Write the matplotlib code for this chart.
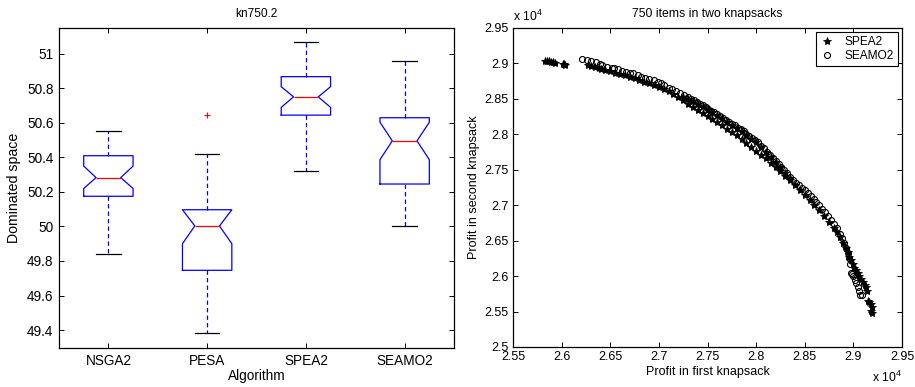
import matplotlib
matplotlib.use('Agg')
import matplotlib.pyplot as plt

plt.rcParams['font.family'] = ['Liberation Sans', 'DejaVu Sans']
plt.rcParams['mathtext.default'] = 'regular'

# left: boxplot of dominated space
algorithms = ['NSGA2', 'PESA', 'SPEA2', 'SEAMO2']
medians = [50.283, 50.003, 50.751, 50.496]
q1s = [50.175, 49.746, 50.645, 50.246]
q3s = [50.41, 50.097, 50.868, 50.63]
whis_lo = [49.842, 49.38, 50.32, 50.001]
whis_hi = [50.552, 50.42, 51.066, 50.956]
notch_lo = [50.22, 49.90, 50.69, 50.387]
notch_hi = [50.35, 50.097, 50.81, 50.604]
outliers = [[], [50.646], [], []]
box_yticks = [49.4, 49.6, 49.8, 50, 50.2, 50.4, 50.6, 50.8, 51]

# right: final fronts
spea2_lower_x = [25830, 25850, 25870, 25890, 25910, 25930, 26010, 26020, 26030,
                 26270, 26300, 26340, 26380, 26400, 26450, 26500, 26550, 26600, 26650,
                 26700, 26750, 26800, 26850, 26900, 26950, 27000, 27050, 27100, 27150,
                 27200, 27250, 27300, 27350, 27400, 27450, 27500, 27550, 27600, 27650,
                 27700, 27750, 27800, 27850, 27900, 27950, 28000, 28050, 28100, 28150,
                 28200, 28250, 28300, 28350, 28400, 28450, 28500, 28550, 28600, 28650,
                 28700, 28750, 28800, 28830, 28860, 28890, 28920, 28940, 28960, 28980,
                 29000, 29010, 29030, 29050, 29060, 29080, 29100, 29120, 29130, 29140,
                 29150, 29160, 29180, 29190, 29190, 29185]
spea2_lower_y = [29035, 29032, 29028, 29022, 29018, 29012, 28990, 28985, 28980,
                 28975, 28965, 28950, 28930, 28925, 28905, 28890, 28870, 28850, 28830,
                 28810, 28790, 28765, 28745, 28720, 28695, 28670, 28640, 28605, 28570,
                 28530, 28480, 28430, 28385, 28340, 28300, 28260, 28215, 28170, 28125,
                 28080, 28035, 27985, 27935, 27880, 27825, 27770, 27715, 27660, 27600,
                 27540, 27480, 27415, 27350, 27285, 27220, 27150, 27070, 27000, 26930,
                 26850, 26770, 26680, 26620, 26550, 26470, 26400, 26340, 26270, 26220,
                 26170, 26120, 26080, 26040, 26000, 25960, 25920, 25880, 25840, 25790,
                 25650, 25630, 25600, 25560, 25480, 25510]
spea2_upper_x = [27250, 27300, 27350, 27400, 27450, 27500, 27550, 27600, 27650, 27700,
                 27750, 27800, 27850, 27900, 27950, 28000, 28050, 28100, 28150, 28200,
                 28250, 28300, 28350]
spea2_upper_y = [28530, 28505, 28470, 28425, 28395, 28355, 28310, 28270, 28230, 28180,
                 28135, 28090, 28045, 27995, 27940, 27885, 27825, 27755, 27680, 27610,
                 27540, 27460, 27390]

seamo2_x = [26210, 26260, 26300, 26350, 26390, 26410, 26470, 26520, 26540, 26580,
            26620, 26660, 26700, 26730, 26780, 26820, 26860, 26900, 26950, 26990,
            27020, 27050, 27100, 27130, 27180, 27220, 27260, 27300, 27330, 27360,
            27390, 27420, 27450, 27480, 27510, 27540, 27570, 27600, 27630, 27660,
            27690, 27720, 27750, 27780, 27810, 27840, 27870, 27900, 27930, 27960,
            27990, 28020, 28050, 28080, 28110, 28140, 28170, 28200, 28230, 28260,
            28290, 28320, 28350, 28380, 28410, 28440, 28470, 28500, 28530, 28560,
            28590, 28620, 28650, 28680, 28710, 28740, 28770, 28800, 28830, 28860,
            28880, 28900, 28920, 28940, 28960, 28970, 28980, 28990, 29000, 29020,
            29030, 29050, 29060, 29070, 29090]
seamo2_y = [29058, 29045, 29040, 29015, 28990, 28975, 28950, 28935, 28940, 28915,
            28900, 28880, 28870, 28860, 28835, 28815, 28800, 28785, 28760, 28740,
            28720, 28700, 28655, 28640, 28610, 28580, 28555, 28520, 28500, 28480,
            28455, 28430, 28410, 28385, 28360, 28335, 28310, 28285, 28260, 28235,
            28205, 28180, 28150, 28125, 28095, 28070, 28040, 28010, 27980, 27945,
            27915, 27885, 27840, 27800, 27755, 27710, 27665, 27625, 27580, 27535,
            27490, 27450, 27400, 27360, 27320, 27280, 27240, 27210, 27170, 27130,
            27090, 27040, 27000, 26950, 26900, 26850, 26790, 26740, 26680, 26600,
            26540, 26470, 26400, 26330, 26260, 26170, 26050, 26030, 26000, 25950,
            25900, 25850, 25790, 25740, 25730]

front_ticks_x = [25500, 26000, 26500, 27000, 27500, 28000, 28500, 29000, 29500]
front_ticks_y = [25000, 25500, 26000, 26500, 27000, 27500, 28000, 28500, 29000, 29500]

f = plt.figure(figsize=(9.15, 3.87), dpi=100)

ax1 = f.add_axes([0.0645, 0.1008, 0.4317, 0.8269])
stats = []
for i in range(len(algorithms)):
    stats.append({'label': algorithms[i], 'med': medians[i], 'q1': q1s[i], 'q3': q3s[i],
                  'whislo': whis_lo[i], 'whishi': whis_hi[i], 'fliers': outliers[i],
                  'cilo': notch_lo[i], 'cihi': notch_hi[i]})
ax1.bxp(stats, widths=0.5, capwidths=0.25, shownotches=True,
        boxprops=dict(color='blue', linewidth=0.9),
        whiskerprops=dict(color='blue', linewidth=0.9, linestyle=(0, (3.5, 2.5))),
        capprops=dict(color='black', linewidth=0.9),
        medianprops=dict(color='red', linewidth=0.9),
        flierprops=dict(marker='+', markeredgecolor='red', markersize=4, markeredgewidth=0.8))
ax1.set_xlim(0.5, 4.5)
ax1.set_ylim(49.296, 51.15)
ax1.set_yticks(box_yticks)
ax1.set_yticklabels(['%g' % v for v in box_yticks])
ax1.tick_params(direction='in', top=True, right=True, length=3.5, width=0.7, labelsize=9.8, pad=4)
ax1.set_title('kn750.2', fontsize=8.6, pad=8)
ax1.set_xlabel('Algorithm', fontsize=9.8, labelpad=1)
ax1.set_ylabel('Dominated space', fontsize=10.2, labelpad=4)
for s in ax1.spines.values():
    s.set_linewidth(0.9)

ax2 = f.add_axes([0.5607, 0.1034, 0.4251, 0.8243])
ax2.plot(spea2_lower_x + spea2_upper_x, spea2_lower_y + spea2_upper_y, linestyle='none',
         marker='*', markersize=6, color='black', markeredgewidth=0.6, label='SPEA2')
ax2.plot(seamo2_x, seamo2_y, linestyle='none', marker='o', markersize=4.3, markerfacecolor='none',
         markeredgecolor='black', markeredgewidth=0.8, label='SEAMO2')
ax2.set_xlim(25500, 29500)
ax2.set_ylim(25000, 29500)
ax2.set_xticks(front_ticks_x)
ax2.set_xticklabels(['%g' % (v / 1e4) for v in front_ticks_x])
ax2.set_yticks(front_ticks_y)
ax2.set_yticklabels(['%g' % (v / 1e4) for v in front_ticks_y])
ax2.tick_params(direction='in', top=True, right=True, length=3.5, width=0.7, labelsize=9, pad=3)
ax2.set_title('750 items in two knapsacks', fontsize=8.8, pad=8)
ax2.set_xlabel('Profit in first knapsack', fontsize=9, labelpad=2)
ax2.set_ylabel('Profit in second knapsack', fontsize=9, labelpad=3)
for s in ax2.spines.values():
    s.set_linewidth(0.9)
ax2.text(0.0, 1.012, 'x 10$^{4}$', transform=ax2.transAxes, fontsize=8.8, ha='left', va='bottom')
ax2.text(1.0, -0.094, 'x 10$^{4}$', transform=ax2.transAxes, fontsize=8.8, ha='right', va='center')
leg = ax2.legend(loc='upper right', fontsize=8.6, numpoints=1, fancybox=False, framealpha=1,
                 edgecolor='black', borderaxespad=0.35, handlelength=1.2, handletextpad=0.9,
                 borderpad=0.3, labelspacing=0.2)
leg.get_frame().set_linewidth(0.8)

f.savefig('out.png', dpi=100)
